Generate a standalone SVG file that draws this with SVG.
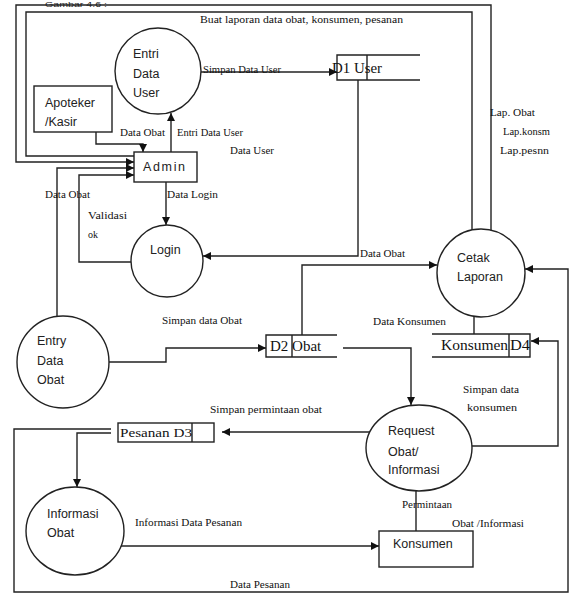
<svg xmlns="http://www.w3.org/2000/svg" width="571" height="594" viewBox="0 0 571 594">
<style>
.ln{fill:none;stroke:#222;stroke-width:1.4}
.nd{fill:#fff;stroke:#222;stroke-width:1.4}
.lb{font-family:"Liberation Serif",serif;font-size:10px;fill:#111}
.nt{font-family:"Liberation Sans",sans-serif;font-size:12.5px;fill:#222}
.st{font-family:"Liberation Serif",serif;font-size:15px;fill:#111}
</style>
<defs>
<marker id="ah" viewBox="0 0 10 10" refX="10" refY="5" markerWidth="8" markerHeight="8" markerUnits="userSpaceOnUse" orient="auto">
<path d="M0,0 L10,5 L0,10 Z" fill="#111"/>
</marker>
</defs>
<rect width="571" height="594" fill="#fff"/>
<text x="45" y="6.5" class="nt" style="font-size:7px" textLength="62" lengthAdjust="spacingAndGlyphs">Gambar 4.6 :</text>

<g id="connectors">
<path class="ln" d="M491,231 V5 H16 V162 H134" marker-end="url(#ah)"/>
<path class="ln" d="M472,230 V12 H26 V156 H134"/>
<path class="ln" d="M96,132 V144 H143 V152" marker-end="url(#ah)"/>
<path class="ln" d="M171,152 V113" marker-end="url(#ah)"/>
<path class="ln" d="M201,72 H337" marker-end="url(#ah)"/>
<path class="ln" d="M358,80 V256 H203" marker-end="url(#ah)"/>
<path class="ln" d="M166,182 V225" marker-end="url(#ah)"/>
<path class="ln" d="M131,262 H79 V175 H134" marker-end="url(#ah)"/>
<path class="ln" d="M57,316 V168 H134" marker-end="url(#ah)"/>
<path class="ln" d="M109,362 H166 V348 H266" marker-end="url(#ah)"/>
<path class="ln" d="M302,335 V265 H437" marker-end="url(#ah)"/>
<path class="ln" d="M343,348 H411 V405" marker-end="url(#ah)"/>
<path class="ln" d="M474,316 V334"/>
<path class="ln" d="M472,446 H558 V341 H531" marker-end="url(#ah)"/>
<path class="ln" d="M370,432 H222" marker-end="url(#ah)"/>
<path class="ln" d="M111,429 H14 V592 H568 V269 H525" marker-end="url(#ah)"/>
<path class="ln" d="M111,433 H77 V487" marker-end="url(#ah)"/>
<path class="ln" d="M121,546 H379" marker-end="url(#ah)"/>
<path class="ln" d="M416,491 V531"/>
</g>

<g id="labels">
<text class="lb" x="200" y="23" textLength="203" lengthAdjust="spacingAndGlyphs">Buat laporan data obat, konsumen, pesanan</text>
<text class="lb" x="203" y="73" textLength="78" lengthAdjust="spacingAndGlyphs">Simpan Data User</text>
<text class="lb" x="120" y="136" textLength="45" lengthAdjust="spacingAndGlyphs">Data Obat</text>
<text class="lb" x="177" y="136" textLength="66" lengthAdjust="spacingAndGlyphs">Entri Data User</text>
<text class="lb" x="230" y="154" textLength="44" lengthAdjust="spacingAndGlyphs">Data User</text>
<text class="lb" x="167" y="198" textLength="51" lengthAdjust="spacingAndGlyphs">Data Login</text>
<text class="lb" x="45" y="198" textLength="45" lengthAdjust="spacingAndGlyphs">Data Obat</text>
<text class="lb" x="88" y="219" textLength="39" lengthAdjust="spacingAndGlyphs">Validasi</text>
<text class="lb" x="88" y="238">ok</text>
<text class="lb" x="162" y="324" textLength="80" lengthAdjust="spacingAndGlyphs">Simpan data Obat</text>
<text class="lb" x="360" y="257" textLength="45" lengthAdjust="spacingAndGlyphs">Data Obat</text>
<text class="lb" x="373" y="325" textLength="73" lengthAdjust="spacingAndGlyphs">Data Konsumen</text>
<text class="lb" x="490" y="116" textLength="45" lengthAdjust="spacingAndGlyphs">Lap. Obat</text>
<text class="lb" x="503" y="135" textLength="47" lengthAdjust="spacingAndGlyphs">Lap.konsm</text>
<text class="lb" x="500" y="154" textLength="49" lengthAdjust="spacingAndGlyphs">Lap.pesnn</text>
<text class="lb" x="463" y="393" textLength="56" lengthAdjust="spacingAndGlyphs">Simpan data</text>
<text class="lb" x="467" y="411" textLength="50" lengthAdjust="spacingAndGlyphs">konsumen</text>
<text class="lb" x="210" y="413" textLength="112" lengthAdjust="spacingAndGlyphs">Simpan permintaan obat</text>
<text class="lb" x="402" y="508" textLength="50" lengthAdjust="spacingAndGlyphs">Permintaan</text>
<text class="lb" x="452" y="527" textLength="72" lengthAdjust="spacingAndGlyphs">Obat /Informasi</text>
<text class="lb" x="135" y="526" textLength="107" lengthAdjust="spacingAndGlyphs">Informasi Data Pesanan</text>
<text class="lb" x="230" y="588" textLength="60" lengthAdjust="spacingAndGlyphs">Data Pesanan</text>
</g>

<g id="entri-data-user">
<circle class="nd" cx="158" cy="71" r="43"/>
<text class="nt" x="133" y="58">Entri</text>
<text class="nt" x="133" y="78">Data</text>
<text class="nt" x="133" y="97">User</text>
</g>
<g id="apoteker-kasir">
<rect class="nd" x="34" y="86" width="78" height="46"/>
<text class="nt" x="45" y="107">Apoteker</text>
<text class="nt" x="45" y="126">/Kasir</text>
</g>
<g id="admin">
<rect class="nd" x="134" y="152" width="63" height="30"/>
<text class="nt" x="143" y="171" textLength="42" lengthAdjust="spacing">Admin</text>
</g>
<g id="login">
<circle class="nd" cx="167" cy="261" r="36"/>
<text class="nt" x="150" y="254">Login</text>
</g>
<g id="entry-data-obat">
<circle class="nd" cx="63" cy="362" r="46"/>
<text class="nt" x="37" y="345">Entry</text>
<text class="nt" x="37" y="365">Data</text>
<text class="nt" x="37" y="384">Obat</text>
</g>
<g id="d1-user">
<path class="ln" d="M420,55 H337 V80 H420 M367,55 V80"/>
<text class="st" x="332" y="73" textLength="50" lengthAdjust="spacingAndGlyphs">D1 User</text>
</g>
<g id="d2-obat">
<path class="ln" d="M337,335 H266 V357 H337 M292,335 V357"/>
<text class="st" x="270" y="351">D2 Obat</text>
</g>
<g id="cetak-laporan">
<circle class="nd" cx="481" cy="273" r="44"/>
<text class="nt" x="457" y="262">Cetak</text>
<text class="nt" x="457" y="281">Laporan</text>
</g>
<g id="d4-konsumen">
<path class="ln" d="M432,334 H530 V357 H432 M509,334 V357"/>
<text class="st" x="441" y="350" textLength="67" lengthAdjust="spacingAndGlyphs">Konsumen</text>
<text class="st" x="510" y="350" textLength="20" lengthAdjust="spacingAndGlyphs">D4</text>
</g>
<g id="request-obat">
<ellipse class="nd" cx="419" cy="448" rx="53" ry="43"/>
<text class="nt" x="388" y="435">Request</text>
<text class="nt" x="388" y="456">Obat/</text>
<text class="nt" x="388" y="474">Informasi</text>
</g>
<g id="d3-pesanan">
<rect class="nd" x="118" y="423" width="96" height="19"/>
<path class="ln" d="M192,423 V442"/>
<text class="st" x="120" y="437" style="font-size:13px" textLength="72" lengthAdjust="spacingAndGlyphs">Pesanan D3</text>
</g>
<g id="informasi-obat">
<ellipse class="nd" cx="75" cy="531" rx="49" ry="44"/>
<text class="nt" x="47" y="518">Informasi</text>
<text class="nt" x="47" y="537">Obat</text>
</g>
<g id="konsumen">
<rect class="nd" x="379" y="531" width="94" height="36"/>
<text class="nt" x="393" y="548">Konsumen</text>
</g>
</svg>
